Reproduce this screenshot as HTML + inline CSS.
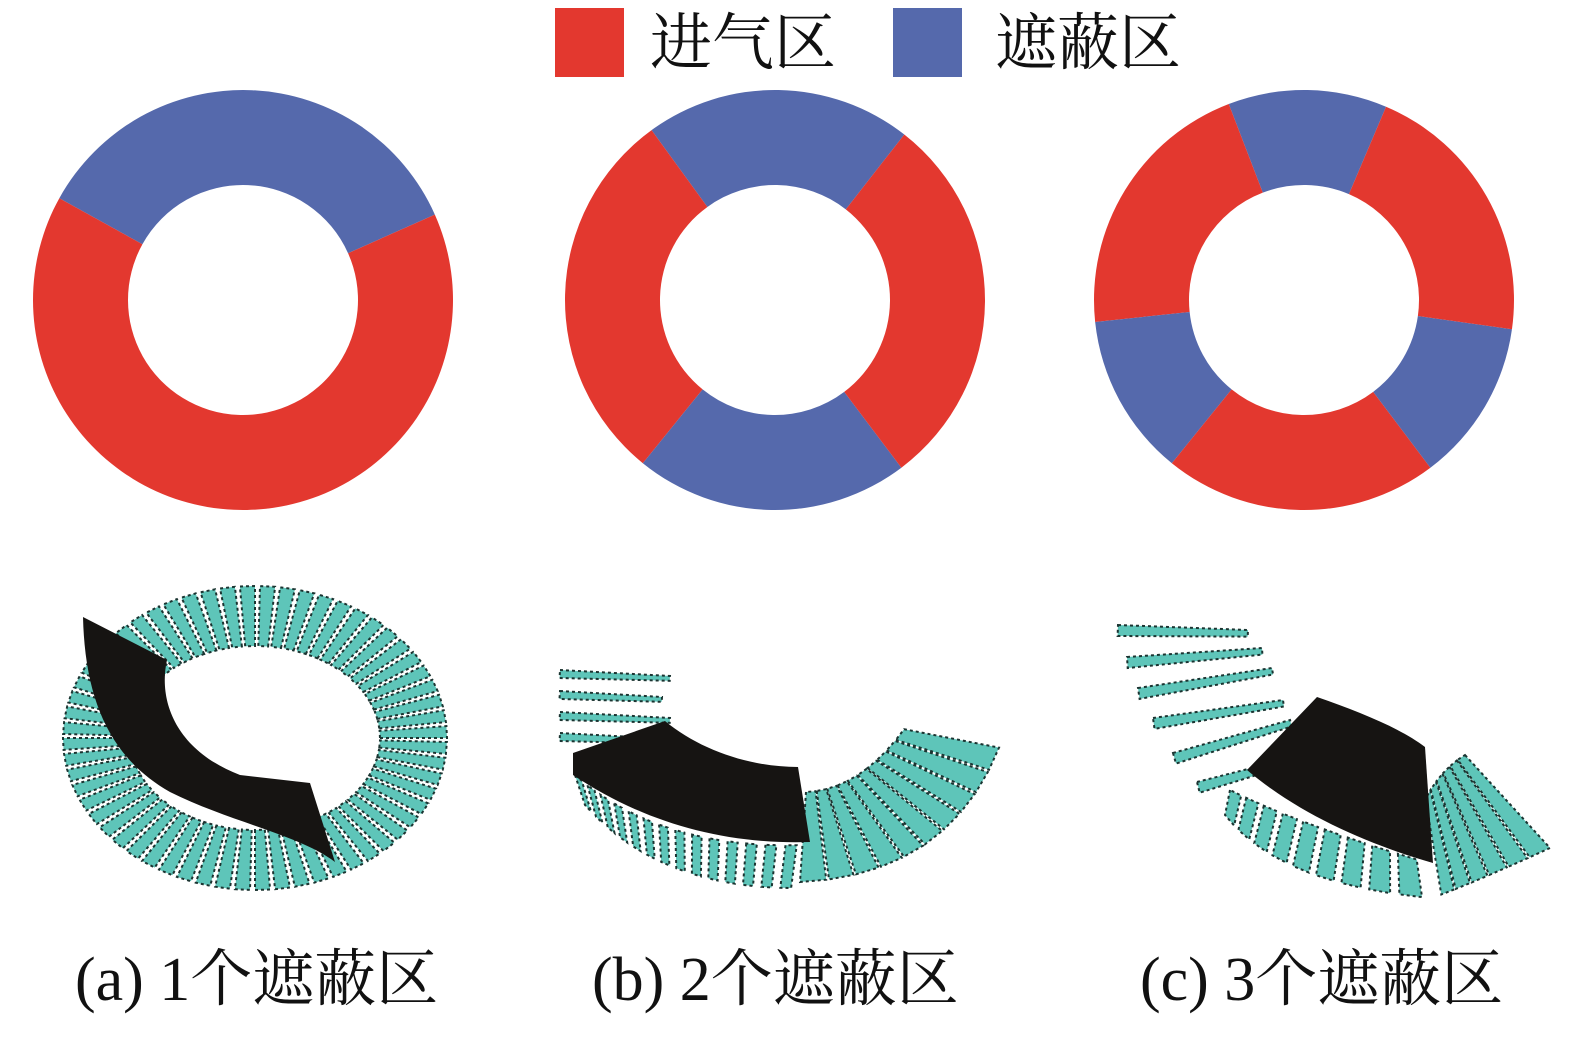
<!DOCTYPE html>
<html><head><meta charset="utf-8"><style>
html,body{margin:0;padding:0;background:#fff;}
body{width:1573px;height:1038px;overflow:hidden;position:relative;}
svg{position:absolute;left:0;top:0;}
</style></head><body>
<svg id="s" width="1573" height="1038" viewBox="0 0 1573 1038" xmlns="http://www.w3.org/2000/svg">
<rect x="555" y="8" width="69" height="69" fill="#e3382f"/>
<rect x="893" y="8" width="69" height="69" fill="#5569ac"/>
<text x="650" y="64" font-family="Liberation Serif, Noto Serif CJK SC, serif" font-size="62" fill="#111">进气区</text>
<text x="995" y="64" font-family="Liberation Serif, Noto Serif CJK SC, serif" font-size="62" fill="#111">遮蔽区</text>
<g id="donuts"></g>
<g id="blades"></g>
<text x="75" y="1000" font-family="Liberation Serif, Noto Serif CJK SC, serif" font-size="62" fill="#111">(a) 1个遮蔽区</text>
<text x="592" y="1000" font-family="Liberation Serif, Noto Serif CJK SC, serif" font-size="62" fill="#111">(b) 2个遮蔽区</text>
<text x="1140" y="1000" font-family="Liberation Serif, Noto Serif CJK SC, serif" font-size="62" fill="#111">(c) 3个遮蔽区</text>
</svg>
<script>
var NS="http://www.w3.org/2000/svg";
var R="#e3382f",B="#5569ac";
function sector(cx,cy,ro,ri,a1,a2,col){
 var r=Math.PI/180;
 function p(rad,a){return [cx+rad*Math.cos(a*r),cy-rad*Math.sin(a*r)];}
 var large=((a2-a1+360)%360)>180?1:0;
 var o1=p(ro,a1),o2=p(ro,a2),i2=p(ri,a2),i1=p(ri,a1);
 var d="M"+o1+" A"+ro+" "+ro+" 0 "+large+" 0 "+o2+" L"+i2+" A"+ri+" "+ri+" 0 "+large+" 1 "+i1+"Z";
 var e=document.createElementNS(NS,"path");e.setAttribute("d",d);e.setAttribute("fill",col);
 document.getElementById("donuts").appendChild(e);
}
function donut(cx,cy,segs){segs.forEach(function(s){sector(cx,cy,210,115,s[0],s[1],s[2]);});}
donut(243,300,[[24,151,B],[151,384,R]]);
donut(775,300,[[52,126,B],[126,231,R],[231,307,B],[307,412,R]]);
donut(1304,300,[[67,111,B],[111,186,R],[186,231,B],[231,307,R],[307,352,B],[352,427,R]]);

var G=document.getElementById("blades");
var TEAL="#5ec5b9";
function poly(pts,fill,stroke){var e=document.createElementNS(NS,"polygon");e.setAttribute("points",pts.map(function(p){return p[0].toFixed(1)+","+p[1].toFixed(1)}).join(" "));e.setAttribute("fill",fill);if(stroke){e.setAttribute("stroke",stroke);e.setAttribute("stroke-width","2");e.setAttribute("stroke-dasharray","3 3");}G.appendChild(e);}
function path(d,fill){var e=document.createElementNS(NS,"path");e.setAttribute("d",d);e.setAttribute("fill",fill);G.appendChild(e);}
function qb(c,t){var u=1-t;return [u*u*c[0][0]+2*u*t*c[1][0]+t*t*c[2][0],u*u*c[0][1]+2*u*t*c[1][1]+t*t*c[2][1]];}
function fan(inner,outer,n,fill){
 for(var i=0;i<n;i++){var t0=i/n,t1=(i+fill)/n;
  poly([qb(inner,t0),qb(outer,t0),qb(outer,t1),qb(inner,t1)],TEAL,"#1b3431");}
}
function bl(x1,y1,x2,y2,w){var dx=x2-x1,dy=y2-y1,l=Math.hypot(dx,dy),nx=-dy/l*w,ny=dx/l*w;
 poly([[x1,y1],[x2,y2],[x2+nx*0.6,y2+ny*0.6],[x1+nx,y1+ny]],TEAL,"#1b3431");}
// (a) ring
(function(){
 var cx=255,cy=738,r=Math.PI/180;
 for(var a=0;a<360;a+=6){
  var a1=a*r,a2=(a+4.5)*r;
  poly([[cx+125*Math.cos(a1),cy-92*Math.sin(a1)],[cx+192*Math.cos(a1),cy-152*Math.sin(a1)],
        [cx+192*Math.cos(a2),cy-152*Math.sin(a2)],[cx+125*Math.cos(a2),cy-92*Math.sin(a2)]],TEAL,"#1b3431");
 }
 path("M83,617 L167,660 C158,700 175,750 240,775 L310,783 L335,862 C300,835 230,822 170,792 C110,758 85,700 83,617Z","#161412");
})();
// (b)
(function(){
 [[672,8],[693,8],[714,8],[735,8]].forEach(function(b,i){bl(560,b[0]-2,670-(i==1?8:0),b[0]+4,b[1]);});
 fan([[575,775],[660,850],[806,845]],[[585,805],[660,890],[800,888]],14,0.55);
 fan([[806,792],[860,790],[905,728]],[[800,882],[950,875],[1000,745]],10,0.9);
 path("M573,753 L665,721 C700,750 750,767 798,767 L810,842 C720,845 640,820 573,775Z","#161412");
})();
// (c)
(function(){
 var rows=[[1118,625,1248,630],[1127,657,1262,648],[1138,688,1272,668],[1153,718,1283,700],[1173,753,1290,720],[1197,782,1283,760]];
 rows.forEach(function(r){bl(r[0],r[1],r[2],r[3],11);});
 fan([[1230,790],[1300,825],[1425,862]],[[1225,815],[1280,885],[1432,898]],9,0.7);
 fan([[1465,755],[1440,770],[1425,800]],[[1550,848],[1480,880],[1440,895]],6,0.9);
 path("M1317,697 C1360,712 1400,728 1425,747 L1433,863 C1370,845 1300,815 1247,770Z","#161412");
})();
</script>
</body></html>
